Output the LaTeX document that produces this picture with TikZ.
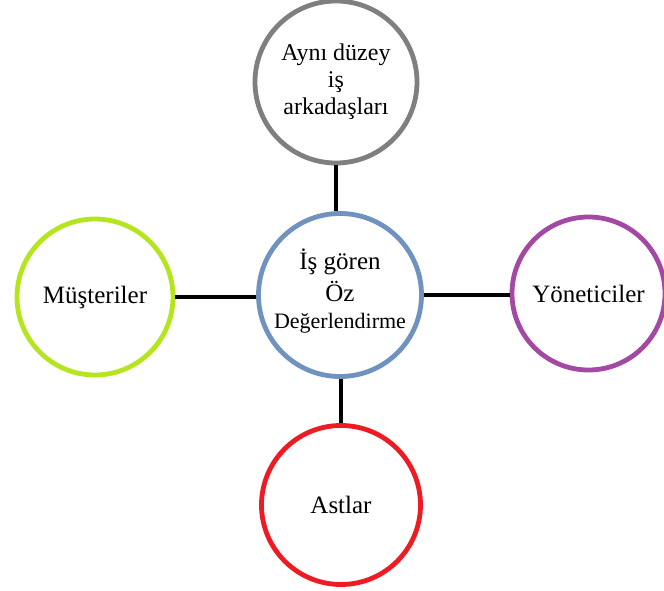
\documentclass[tikz,border=0pt]{standalone}
\usepackage{fontspec}
\setmainfont{Liberation Serif}
\definecolor{cgray}{HTML}{7F7F7F}
\definecolor{cblue}{HTML}{7092BE}
\definecolor{cgreen}{HTML}{B5E61D}
\definecolor{cpurple}{HTML}{A349A4}
\definecolor{cred}{HTML}{ED1C24}
\begin{document}
\begin{tikzpicture}[x=1pt,y=-1pt,
  bub/.style={circle, draw, line width=4.8pt, inner sep=0pt, align=center,
    font=\fontsize{25}{27}\selectfont, fill=white},
  link/.style={line width=3.2pt, draw=black}]
\useasboundingbox[fill=white] (0,0) rectangle (664,591);
\node[bub, draw=cgray, minimum size=162pt, font=\fontsize{24}{27}\selectfont] (top) at (336,82) {Aynı düzey\\iş\\arkadaşları};
\node[bub, draw=cblue, minimum size=163pt] (mid) at (340,295) {İş gören\\[5pt]Öz\\{\fontsize{22}{26}\selectfont Değerlendirme\rule[-13pt]{0pt}{1pt}}};
\node[bub, draw=cgreen, minimum size=156pt] (left) at (95,297) {Müşteriler};
\node[bub, draw=cpurple, minimum size=153pt] (right) at (588.5,293.5) {Yöneticiler};
\node[bub, draw=cred, minimum size=159pt] (bot) at (341,505) {Astlar};
\draw[link] (top.south) -- (top.south |- mid.north);
\draw[link] (mid.south -| bot.north) -- (bot.north);
\draw[link] (left.east) -- (left.east -| mid.west);
\draw[link] (mid.east) -- (mid.east -| right.west);
\end{tikzpicture}
\end{document}
